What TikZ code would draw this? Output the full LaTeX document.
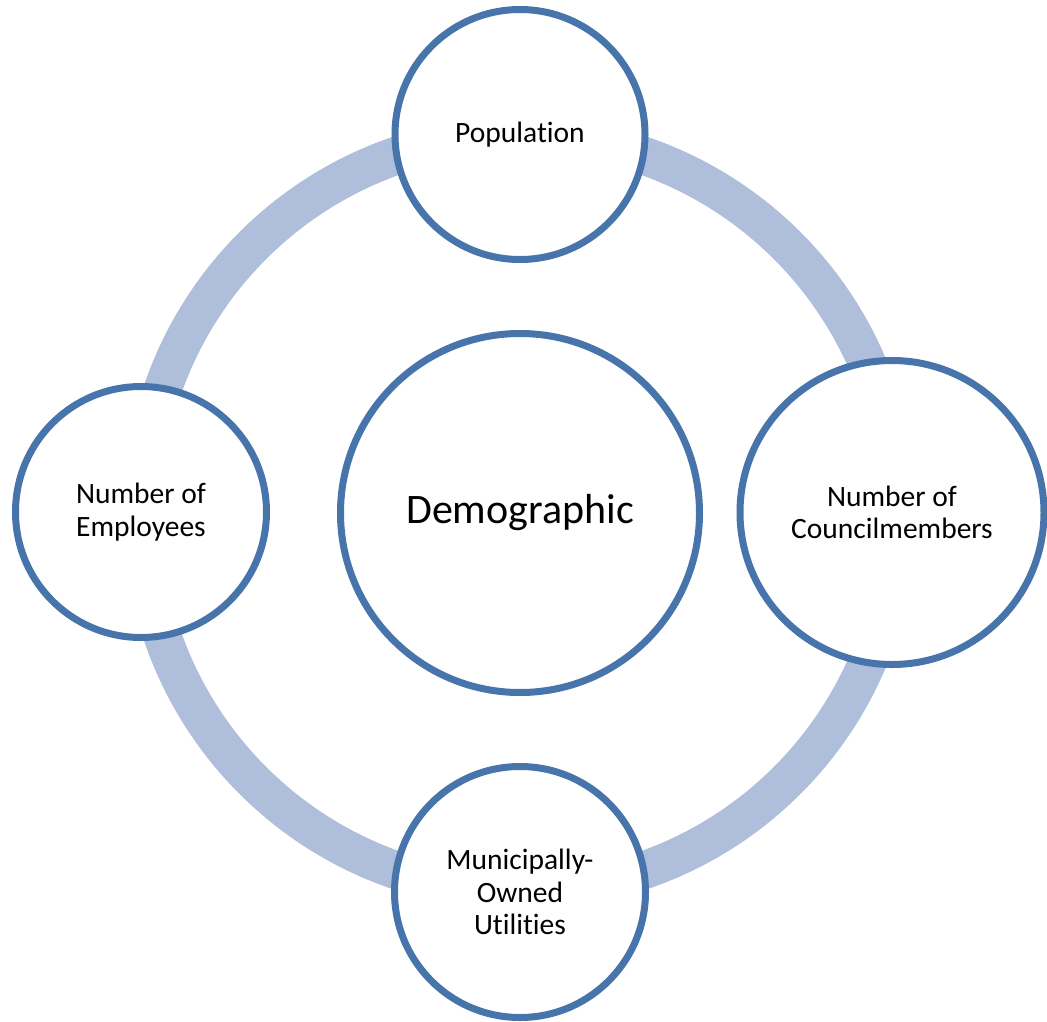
\documentclass[tikz,border=0pt]{standalone}
\usepackage{fontspec}
\setmainfont{Carlito}[Ligatures={NoCommon}]
\usetikzlibrary{shadows}
\definecolor{edgeblue}{RGB}{71,116,170}
\definecolor{ringblue}{RGB}{175,191,219}
\begin{document}
\begin{tikzpicture}[x=1pt,y=-1pt,
  bubble/.style={circle, draw=edgeblue, line width=7pt, fill=white, align=center,
     inner sep=0pt, font=\fontsize{29.5}{32.5}\selectfont,
     drop shadow={opacity=0.12, shadow xshift=0pt, shadow yshift=-3pt}},
  ring/.style={draw=ringblue, line width=38pt}]
\useasboundingbox (0,0) rectangle (1047,1021);
\coordinate (hub) at (520,513);
\draw[ring] (hub) circle[radius=378];
\node[bubble, minimum size=250pt] (pop) at (520,134.5) {Population};
\node[bubble, minimum size=304pt] (coun) at (892,512.5) {Number of\\Councilmembers};
\node[bubble, minimum size=251pt] (emp) at (141,512) {Number of\\Employees};
\node[bubble, minimum size=251pt] (util) at (520,892) {Municipally-\\Owned\\Utilities};
\node[bubble, minimum size=359pt, font=\fontsize{42}{48}\selectfont] (demo) at (520,513) {Demographic};
\end{tikzpicture}
\end{document}
